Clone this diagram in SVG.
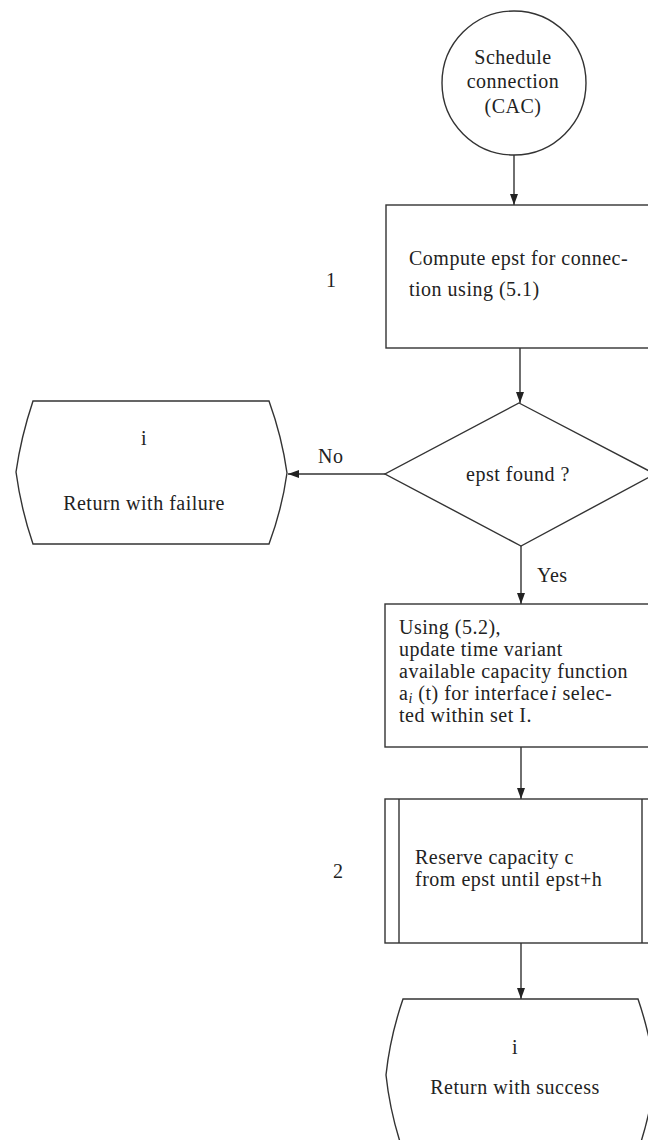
<svg xmlns="http://www.w3.org/2000/svg" width="648" height="1140" viewBox="0 0 648 1140">
<defs>
<style>
.s{fill:#fff;stroke:#333;stroke-width:1.4}
.t{font-family:"Liberation Serif","Times New Roman",serif;font-size:20px;letter-spacing:0.5px;fill:#222}
.m{text-anchor:middle}
.c{stroke:#333;stroke-width:1.4;fill:none;marker-end:url(#ah)}
</style>
<marker id="ah" markerWidth="11" markerHeight="8" refX="11" refY="4" orient="auto" markerUnits="userSpaceOnUse" viewBox="0 0 11 8">
<path d="M0,0 L11,4 L0,8 Z" fill="#222"/>
</marker>
</defs>
<rect width="648" height="1140" fill="#fff"/>
<g id="connectors">
<line class="c" x1="514" y1="155" x2="514" y2="205"/>
<line class="c" x1="520" y1="348" x2="520" y2="403"/>
<line class="c" x1="385" y1="474" x2="288" y2="474"/>
<line class="c" x1="521" y1="546" x2="521" y2="604"/>
<line class="c" x1="521" y1="747" x2="521" y2="799"/>
<line class="c" x1="521" y1="943" x2="521" y2="999"/>
<text class="t" x="318" y="463">No</text>
<text class="t" x="537" y="582">Yes</text>
</g>
<g id="start">
<circle class="s" cx="514" cy="83" r="72"/>
<text class="t m" x="513" y="64">Schedule</text>
<text class="t m" x="513" y="88">connection</text>
<text class="t m" x="513" y="113">(CAC)</text>
</g>
<g id="compute">
<rect class="s" x="386" y="205" width="274" height="143"/>
<text class="t" x="409" y="265">Compute epst for connec-</text>
<text class="t" x="409" y="296">tion using (5.1)</text>
<text class="t" x="326" y="287">1</text>
</g>
<g id="decision">
<polygon class="s" points="519,403 655,474 521,546 385,474"/>
<text class="t m" x="518" y="481">epst found ?</text>
</g>
<g id="failure">
<path class="s" d="M33,401 L269,401 Q282,437 287,473 Q282,509 269,544 L33,544 Q21,509 16,472 Q21,437 33,401 Z"/>
<text class="t m" x="144" y="445">i</text>
<text class="t m" x="144" y="510">Return with failure</text>
</g>
<g id="update">
<rect class="s" x="385" y="604" width="275" height="143"/>
<text class="t" x="399" y="634">Using (5.2),</text>
<text class="t" x="399" y="656">update time variant</text>
<text class="t" x="399" y="678">available capacity function</text>
<text class="t" x="399" y="700">a<tspan font-style="italic" font-size="14" dy="3">i</tspan><tspan dy="-3"> (t) for interface</tspan><tspan font-style="italic" dx="2">i</tspan> selec-</text>
<text class="t" x="399" y="722">ted within set I.</text>
</g>
<g id="reserve">
<rect class="s" x="385" y="799" width="275" height="144"/>
<line x1="399" y1="799" x2="399" y2="943" stroke="#333" stroke-width="1.4"/>
<line x1="642" y1="799" x2="642" y2="943" stroke="#333" stroke-width="1.4"/>
<text class="t" x="415" y="864">Reserve capacity c</text>
<text class="t" x="415" y="886">from epst until epst+h</text>
<text class="t" x="333" y="878">2</text>
</g>
<g id="success">
<path class="s" d="M403,999 L638,999 Q651,1037 655,1075 Q651,1113 638,1151 L403,1151 Q390,1113 386,1075 Q390,1037 403,999 Z"/>
<text class="t m" x="515" y="1054">i</text>
<text class="t m" x="515" y="1094">Return with success</text>
</g>
</svg>
